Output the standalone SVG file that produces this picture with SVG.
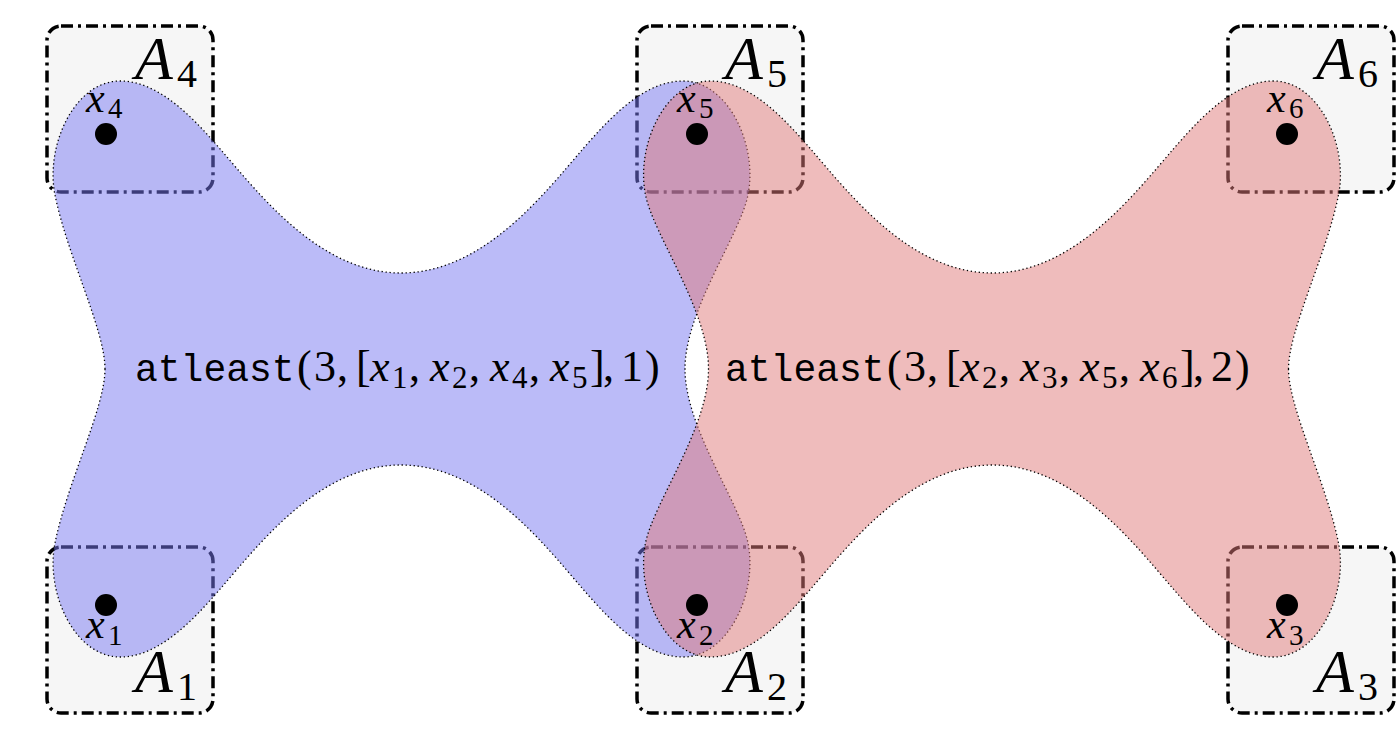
<svg xmlns="http://www.w3.org/2000/svg" width="1398" height="739" viewBox="0 0 1398 739">
<style>
.box{fill:#f6f6f6;stroke:#000;stroke-width:3.5;stroke-dasharray:12 5 3 5;}
.hull{stroke:#000;stroke-width:1.3;stroke-dasharray:1.3 2.7;}
.dot{fill:#000;}
text{fill:#000;}
.it{font-style:italic;}
.tt{font-size:38px;}
.A{font-size:62px;}
.As{font-size:40px;}
.xl{font-size:42px;}
.xs{font-size:29px;}
.m{font-size:44px;}
.ms{font-size:31px;}
</style>
<defs>
<path id="hullpath" d="M105,369 C105,330 67,255 55,195 C45,145 75,81 120,81 C160,81 195,120 221,150 C260,195 320,273 401,273 C483,273 543,195 582,150 C608,120 643,81 683,81 C728,81 758,145 748,195 C740,235 685,310 685,369 C685,428 740,503 748,543 C758,593 728,657 683,657 C643,657 608,618 582,588 C543,543 483,465 401,465 C320,465 260,543 221,588 C195,618 160,657 120,657 C75,657 45,593 55,543 C67,483 105,408 105,369 Z"/>
</defs>

<g id="A4"><rect class="box" x="47" y="26" width="166" height="166" rx="14"/><text font-family="Liberation Serif, serif" x="135" y="79"><tspan class="it A">A</tspan><tspan class="As" x="177" y="87">4</tspan></text></g>
<g id="A5"><rect class="box" x="637" y="26" width="166" height="166" rx="14"/><text font-family="Liberation Serif, serif" x="725" y="79"><tspan class="it A">A</tspan><tspan class="As" x="767" y="87">5</tspan></text></g>
<g id="A6"><rect class="box" x="1228" y="26" width="166" height="166" rx="14"/><text font-family="Liberation Serif, serif" x="1316" y="79"><tspan class="it A">A</tspan><tspan class="As" x="1358" y="87">6</tspan></text></g>
<g id="A1"><rect class="box" x="47" y="547" width="166" height="166" rx="14"/><text font-family="Liberation Serif, serif" x="135" y="692"><tspan class="it A">A</tspan><tspan class="As" x="177" y="700">1</tspan></text></g>
<g id="A2"><rect class="box" x="637" y="547" width="166" height="166" rx="14"/><text font-family="Liberation Serif, serif" x="725" y="692"><tspan class="it A">A</tspan><tspan class="As" x="767" y="700">2</tspan></text></g>
<g id="A3"><rect class="box" x="1228" y="547" width="166" height="166" rx="14"/><text font-family="Liberation Serif, serif" x="1316" y="692"><tspan class="it A">A</tspan><tspan class="As" x="1358" y="700">3</tspan></text></g>

<g id="e1">
<use href="#hullpath" class="hull" fill="#7878f2" fill-opacity="0.5"/>
<text class="tt" font-family="Liberation Mono, monospace" x="135" y="381">atleast</text>
<text font-family="Liberation Serif, serif" y="381"><tspan class="m" x="297">(</tspan><tspan class="m" x="314">3</tspan><tspan class="m" x="337">,</tspan><tspan class="m" x="356">[</tspan><tspan class="it m" x="370">x</tspan><tspan class="ms" x="392" y="388">1</tspan><tspan class="m" x="409" y="381">,</tspan><tspan class="it m" x="430">x</tspan><tspan class="ms" x="452" y="388">2</tspan><tspan class="m" x="469" y="381">,</tspan><tspan class="it m" x="490">x</tspan><tspan class="ms" x="512" y="388">4</tspan><tspan class="m" x="529" y="381">,</tspan><tspan class="it m" x="550">x</tspan><tspan class="ms" x="572" y="388">5</tspan><tspan class="m" x="590" y="381">]</tspan><tspan class="m" x="603">,</tspan><tspan class="m" x="621">1</tspan><tspan class="m" x="645">)</tspan></text>
</g>

<g id="e2">
<use href="#hullpath" class="hull" fill="#df7979" fill-opacity="0.5" transform="matrix(-1 0 0 1 1393.5 0)"/>
<text class="tt" font-family="Liberation Mono, monospace" x="725" y="381">atleast</text>
<text font-family="Liberation Serif, serif" y="381"><tspan class="m" x="887">(</tspan><tspan class="m" x="904">3</tspan><tspan class="m" x="927">,</tspan><tspan class="m" x="946">[</tspan><tspan class="it m" x="960">x</tspan><tspan class="ms" x="982" y="388">2</tspan><tspan class="m" x="999" y="381">,</tspan><tspan class="it m" x="1020">x</tspan><tspan class="ms" x="1042" y="388">3</tspan><tspan class="m" x="1059" y="381">,</tspan><tspan class="it m" x="1080">x</tspan><tspan class="ms" x="1102" y="388">5</tspan><tspan class="m" x="1119" y="381">,</tspan><tspan class="it m" x="1140">x</tspan><tspan class="ms" x="1162" y="388">6</tspan><tspan class="m" x="1180" y="381">]</tspan><tspan class="m" x="1193">,</tspan><tspan class="m" x="1211">2</tspan><tspan class="m" x="1235">)</tspan></text>
</g>

<g id="x4"><circle class="dot" cx="106" cy="134" r="11"/><text font-family="Liberation Serif, serif" x="86" y="112"><tspan class="it xl">x</tspan><tspan class="xs" x="108" y="118">4</tspan></text></g>
<g id="x5"><circle class="dot" cx="697" cy="134" r="11"/><text font-family="Liberation Serif, serif" x="677" y="112"><tspan class="it xl">x</tspan><tspan class="xs" x="699" y="118">5</tspan></text></g>
<g id="x6"><circle class="dot" cx="1287" cy="134" r="11"/><text font-family="Liberation Serif, serif" x="1267" y="112"><tspan class="it xl">x</tspan><tspan class="xs" x="1289" y="118">6</tspan></text></g>
<g id="x1"><circle class="dot" cx="106" cy="605" r="11"/><text font-family="Liberation Serif, serif" x="86" y="638"><tspan class="it xl">x</tspan><tspan class="xs" x="108" y="645">1</tspan></text></g>
<g id="x2"><circle class="dot" cx="697" cy="605" r="11"/><text font-family="Liberation Serif, serif" x="677" y="638"><tspan class="it xl">x</tspan><tspan class="xs" x="699" y="645">2</tspan></text></g>
<g id="x3"><circle class="dot" cx="1287" cy="605" r="11"/><text font-family="Liberation Serif, serif" x="1267" y="638"><tspan class="it xl">x</tspan><tspan class="xs" x="1289" y="645">3</tspan></text></g>
</svg>
